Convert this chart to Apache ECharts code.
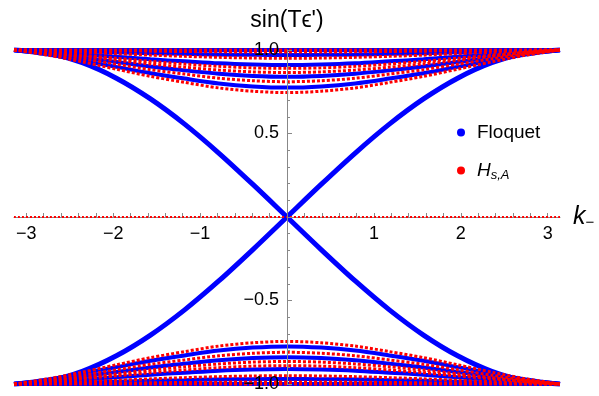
<!DOCTYPE html>
<html>
<head>
<meta charset="utf-8">
<script src="https://cdn.jsdelivr.net/npm/echarts@6/dist/echarts.min.js"></script>
<style>html,body{margin:0;padding:0;background:#fff}#c{width:599px;height:396px}</style>
</head>
<body>
<div id="c"></div>
<script>
// k_- sample positions
const kValues = [-3.1416, -2.7489, -2.3562, -1.9635, -1.5708, -1.1781, -0.7854, -0.3927, 0, 0.3927, 0.7854, 1.1781, 1.5708, 1.9635, 2.3562, 2.7489, 3.1416];
const xTickLabels = [-3, -2, -1, 1, 2, 3];
const yTickLabels = [-1, -0.5, 0.5, 1];

// Floquet edge states
const floquetEdgeRise = [-1, -0.981, -0.924, -0.831, -0.707, -0.556, -0.383, -0.195, 0, 0.195, 0.383, 0.556, 0.707, 0.831, 0.924, 0.981, 1];
const floquetEdgeFall = [1, 0.981, 0.924, 0.831, 0.707, 0.556, 0.383, 0.195, 0, -0.195, -0.383, -0.556, -0.707, -0.831, -0.924, -0.981, -1];

// Floquet bulk bands (upper)
const floquetTop0 = [1, 1, 1, 1, 1, 1, 1, 1, 1, 1, 1, 1, 1, 1, 1, 1, 1];
const floquetTop1 = [1, 0.996, 0.992, 0.987, 0.981, 0.977, 0.973, 0.971, 0.97, 0.971, 0.973, 0.977, 0.981, 0.987, 0.992, 0.996, 1];
const floquetTop2 = [1, 0.989, 0.975, 0.96, 0.944, 0.932, 0.92, 0.913, 0.91, 0.913, 0.92, 0.932, 0.944, 0.96, 0.975, 0.989, 1];
const floquetTop3 = [1, 0.981, 0.955, 0.928, 0.901, 0.878, 0.858, 0.845, 0.84, 0.845, 0.858, 0.878, 0.901, 0.928, 0.955, 0.981, 1];
const floquetTop4 = [1, 0.973, 0.937, 0.899, 0.861, 0.829, 0.8, 0.782, 0.775, 0.782, 0.8, 0.829, 0.861, 0.899, 0.937, 0.973, 1];
// Floquet bulk bands (lower)
const floquetBot0 = [-1, -1, -1, -1, -1, -1, -1, -1, -1, -1, -1, -1, -1, -1, -1, -1, -1];
const floquetBot1 = [-1, -0.996, -0.992, -0.987, -0.981, -0.977, -0.973, -0.971, -0.97, -0.971, -0.973, -0.977, -0.981, -0.987, -0.992, -0.996, -1];
const floquetBot2 = [-1, -0.989, -0.975, -0.96, -0.944, -0.932, -0.92, -0.913, -0.91, -0.913, -0.92, -0.932, -0.944, -0.96, -0.975, -0.989, -1];
const floquetBot3 = [-1, -0.981, -0.955, -0.928, -0.901, -0.878, -0.858, -0.845, -0.84, -0.845, -0.858, -0.878, -0.901, -0.928, -0.955, -0.981, -1];
const floquetBot4 = [-1, -0.973, -0.937, -0.899, -0.861, -0.829, -0.8, -0.782, -0.775, -0.782, -0.8, -0.829, -0.861, -0.899, -0.937, -0.973, -1];

// H_{s,A} zero modes
const hsaZero = [0, 0, 0, 0, 0, 0, 0, 0, 0, 0, 0, 0, 0, 0, 0, 0, 0];
// H_{s,A} bands (upper)
const hsaTop0 = [1, 1, 1, 1, 1, 1, 1, 1, 1, 1, 1, 1, 1, 1, 1, 1, 1];
const hsaTop1 = [1, 0.999, 0.997, 0.995, 0.993, 0.991, 0.989, 0.988, 0.988, 0.988, 0.989, 0.991, 0.993, 0.995, 0.997, 0.999, 1];
const hsaTop2 = [1, 0.994, 0.986, 0.978, 0.969, 0.962, 0.956, 0.952, 0.95, 0.952, 0.956, 0.962, 0.969, 0.978, 0.986, 0.994, 1];
const hsaTop3 = [1, 0.987, 0.969, 0.951, 0.932, 0.916, 0.902, 0.893, 0.89, 0.893, 0.902, 0.916, 0.932, 0.951, 0.969, 0.987, 1];
const hsaTop4 = [1, 0.984, 0.962, 0.939, 0.916, 0.897, 0.88, 0.869, 0.865, 0.869, 0.88, 0.897, 0.916, 0.939, 0.962, 0.984, 1];
const hsaTop5 = [1, 0.977, 0.947, 0.915, 0.882, 0.856, 0.831, 0.816, 0.81, 0.816, 0.831, 0.856, 0.882, 0.915, 0.947, 0.977, 1];
const hsaTop6 = [1, 0.969, 0.929, 0.885, 0.842, 0.806, 0.773, 0.753, 0.745, 0.753, 0.773, 0.806, 0.842, 0.885, 0.929, 0.969, 1];
// H_{s,A} bands (lower)
const hsaBot0 = [-1, -1, -1, -1, -1, -1, -1, -1, -1, -1, -1, -1, -1, -1, -1, -1, -1];
const hsaBot1 = [-1, -0.999, -0.997, -0.995, -0.993, -0.991, -0.989, -0.988, -0.988, -0.988, -0.989, -0.991, -0.993, -0.995, -0.997, -0.999, -1];
const hsaBot2 = [-1, -0.994, -0.986, -0.978, -0.969, -0.962, -0.956, -0.952, -0.95, -0.952, -0.956, -0.962, -0.969, -0.978, -0.986, -0.994, -1];
const hsaBot3 = [-1, -0.987, -0.969, -0.951, -0.932, -0.916, -0.902, -0.893, -0.89, -0.893, -0.902, -0.916, -0.932, -0.951, -0.969, -0.987, -1];
const hsaBot4 = [-1, -0.984, -0.962, -0.939, -0.916, -0.897, -0.88, -0.869, -0.865, -0.869, -0.88, -0.897, -0.916, -0.939, -0.962, -0.984, -1];
const hsaBot5 = [-1, -0.977, -0.947, -0.915, -0.882, -0.856, -0.831, -0.816, -0.81, -0.816, -0.831, -0.856, -0.882, -0.915, -0.947, -0.977, -1];
const hsaBot6 = [-1, -0.969, -0.929, -0.885, -0.842, -0.806, -0.773, -0.753, -0.745, -0.753, -0.773, -0.806, -0.842, -0.885, -0.929, -0.969, -1];

const FONT = 'Liberation Sans, Arial, sans-serif';
const BLUE = '#0000ff';
const RED = '#ff0000';

function curve(name, color, arr, width, dash) {
  return {
    type: 'line', name: name, z: 1,
    data: kValues.map((k, i) => [k, arr[i]]),
    showSymbol: false, smooth: 0.3, clip: false, silent: true,
    itemStyle: { color: color },
    lineStyle: { color: color, width: width, type: dash || 'solid', cap: 'butt' }
  };
}

const series = [];
[floquetTop0, floquetTop1, floquetTop2, floquetTop3, floquetTop4,
 floquetBot0, floquetBot1, floquetBot2, floquetBot3, floquetBot4].forEach(a => series.push(curve('Floquet', BLUE, a, 4)));
series.push(curve('Floquet', BLUE, floquetEdgeRise, 5));
series.push(curve('Floquet', BLUE, floquetEdgeFall, 5));
[hsaTop0, hsaTop1, hsaTop2, hsaTop3, hsaTop4, hsaTop5, hsaTop6,
 hsaBot0, hsaBot1, hsaBot2, hsaBot3, hsaBot4, hsaBot5, hsaBot6].forEach(a => series.push(curve('Hs,A', RED, a, 3, [3, 2])));
series.push(curve('Hs,A', RED, hsaZero, 2, [2, 2]));

const xTicks = [];
for (let i = -15; i <= 15; i++) xTicks.push(i / 5);

const minus = s => String(s).replace('-', '\u2212');

// grid geometry (axes cross at the origin, which is the grid centre)
const G = { left: 14, right: 39, top: 50, bottom: 12 };
const W = 599, H = 396;
const gridW = W - G.left - G.right, gridH = H - G.top - G.bottom;

const chart = echarts.init(document.getElementById('c'), null, { renderer: 'canvas' });
chart.setOption({
  animation: false,
  backgroundColor: '#fff',
  grid: { left: G.left, right: G.right, top: G.top, bottom: G.bottom, containLabel: false, outerBoundsMode: 'none' },
  legend: {
    data: ['Floquet', 'Hs,A'],
    orient: 'vertical', left: 452, top: 118,
    icon: 'circle', itemWidth: 22, itemHeight: 8, itemGap: 19,
    selectedMode: false,
    formatter: n => n === 'Floquet' ? 'Floquet' : '{i|H}{s|s,A}',
    textStyle: {
      fontFamily: FONT, fontSize: 19, color: '#000',
      rich: {
        i: { fontFamily: FONT, fontSize: 19, fontStyle: 'italic', color: '#000' },
        s: { fontFamily: FONT, fontSize: 13, fontStyle: 'italic', color: '#000', padding: [10, 0, 0, 0] }
      }
    }
  },
  xAxis: {
    type: 'value', min: -3.1416, max: 3.1416, z: 0,
    position: 'bottom', offset: -gridH / 2,
    splitLine: { show: false },
    axisLine: { onZero: false, lineStyle: { color: '#888', width: 1 } },
    axisTick: { show: true, inside: true, length: 4, customValues: xTicks, lineStyle: { color: '#888' } },
    axisLabel: { customValues: xTickLabels, formatter: v => minus(v), fontFamily: FONT, fontSize: 18, color: '#000', margin: 8 },
    name: '{k|k}{s|\u2212}', nameLocation: 'end', nameGap: 13,
    nameTextStyle: {
      rich: {
        k: { fontFamily: FONT, fontSize: 25, fontStyle: 'italic', color: '#000' },
        s: { fontFamily: FONT, fontSize: 15, color: '#000', padding: [12, 0, 0, 0] }
      }
    }
  },
  yAxis: {
    type: 'value', min: -1, max: 1, interval: 0.5,
    position: 'left', offset: -gridW / 2, z: 20, zlevel: 0,
    splitLine: { show: false },
    axisLine: { onZero: false, lineStyle: { color: '#888', width: 1 } },
    axisTick: { show: true, inside: true, length: 5, lineStyle: { color: '#888' } },
    minorTick: { show: true, splitNumber: 5, length: 3, lineStyle: { color: '#888' } },
    axisLabel: {
      formatter: v => yTickLabels.indexOf(v) >= 0 ? minus(v.toFixed(1)) : '',
      fontFamily: FONT, fontSize: 18, color: '#000', margin: 8
    },
    name: 'sin(T\u03F5\')', nameLocation: 'end', nameGap: 18,
    nameTextStyle: { fontFamily: FONT, fontSize: 23, color: '#000' }
  },
  series: series
});
</script>
</body>
</html>
